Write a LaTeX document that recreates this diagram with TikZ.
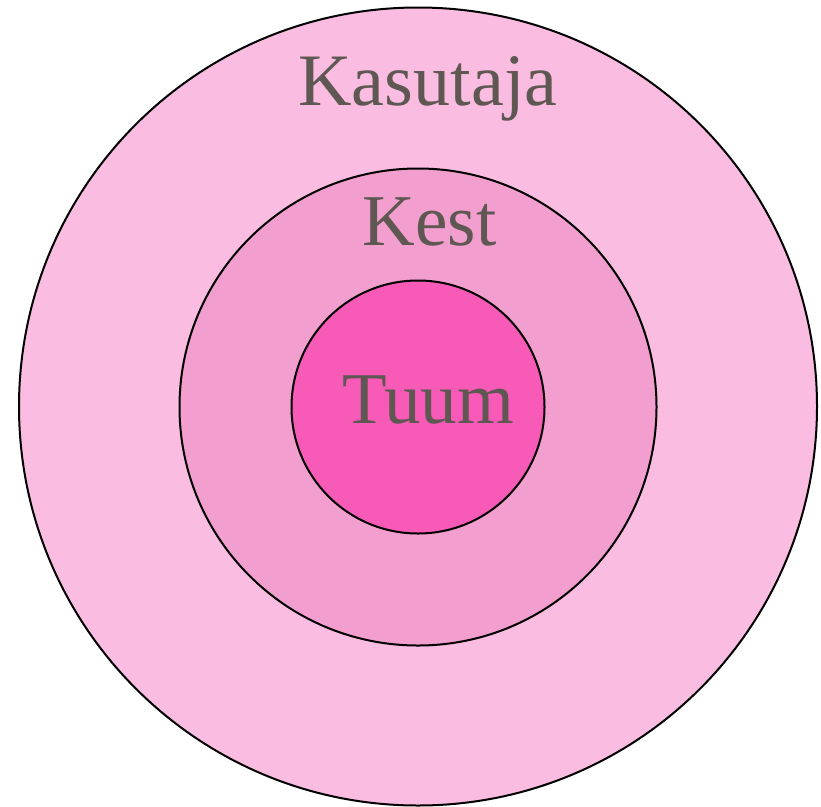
\documentclass[tikz,border=0pt]{standalone}
\usepackage{fontspec}
\setmainfont{Liberation Serif}
\definecolor{outerc}{HTML}{FABDE1}
\definecolor{midc}{HTML}{F29ECE}
\definecolor{innerc}{HTML}{F85AB8}
\definecolor{txtc}{HTML}{5F5751}
\begin{document}
\begin{tikzpicture}[x=1pt,y=-1pt,
  ring/.style={circle,draw=black,line width=2pt,inner sep=0pt},
  lbl/.style={anchor=base,text=txtc,inner sep=0pt}]
\useasboundingbox (0,0) rectangle (821,806);
\node[ring,fill=outerc,minimum size=798pt] (outer) at (418,406.5) {};
\node[ring,fill=midc,minimum size=477pt] (mid) at (418,407) {};
\node[ring,fill=innerc,minimum size=253pt] (inner) at (418,407) {};
\node[lbl,font=\fontsize{74}{80}\selectfont] (kasutaja) at (428,105) {Kasutaja};
\node[lbl,font=\fontsize{73}{80}\selectfont] (kest) at (429.5,245) {Kest};
\node[lbl,font=\fontsize{73}{80}\selectfont] (tuum) at (428,423) {Tuum};
\end{tikzpicture}
\end{document}
